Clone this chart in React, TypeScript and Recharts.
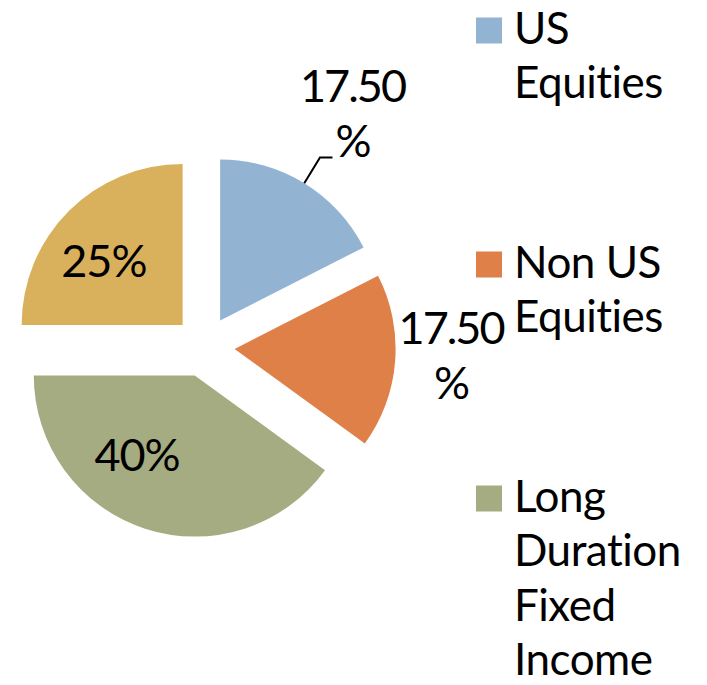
import React from "react";
import { PieChart, Pie, Cell } from "recharts";

// ---- data ----
const categories = ["US Equities", "Non US Equities", "Long Duration Fixed Income", "Other"];
const values = [17.5, 17.5, 40, 25];
const colors = ["#93B3D3", "#DF8049", "#A5AC81", "#D9B15D"];
const legendLabels = [["US", "Equities"], ["Non US", "Equities"], ["Long", "Duration", "Fixed", "Income"]];

const data = categories.map((name, i) => ({ name, value: values[i] }));

// ---- layout ----
const W = 707;
const H = 685;
const CX = 204.2;
const CY = 346.5;
const R = 161;
const EXPLODE = 30.5;
const FONT = "Lato, 'Open Sans', sans-serif";
const FS = 45;
const LS = -1;
const LINE = 55;
const CAP = 33;
const RAD = Math.PI / 180;

// label placement per slice: radius factor, angle tweak (deg, ccw), wrap, leader
const labelLayout = [
  { rf: 1.53, da: -1, wrap: true, leader: true },
  { rf: 1.345, da: 3, wrap: true, leader: false },
  { rf: 0.61, da: -18, wrap: false, leader: false },
  { rf: 0.634, da: 5.5, wrap: false, leader: false },
];

const total = values.reduce((a, b) => a + b, 0);
const midAngles = (() => {
  let cum = 0;
  return values.map((v) => {
    const m = 90 - (360 * (cum + v / 2)) / total;
    cum += v;
    return m;
  });
})();

const polar = (cx: number, cy: number, r: number, a: number) => ({
  x: cx + Math.cos(-a * RAD) * r,
  y: cy + Math.sin(-a * RAD) * r,
});

const fmtPct = (p: number) => {
  const v = p * 100;
  return Math.abs(v - Math.round(v)) < 1e-6 ? `${Math.round(v)}%` : `${v.toFixed(2)}%`;
};

const makeLabel = (target: number) => (props: any) => {
  if (props.index !== target) return null;
  const { cx, cy, midAngle, outerRadius, percent } = props;
  const L = labelLayout[target];
  const p = polar(cx, cy, outerRadius * L.rf, midAngle + L.da);
  const text = fmtPct(percent);
  const lines = L.wrap ? [text.slice(0, -1), "%"] : [text];
  const firstBase = p.y - ((lines.length - 1) * LINE) / 2 + CAP / 2;
  let leader = null;
  if (L.leader) {
    const a = polar(cx, cy, outerRadius, midAngle);
    const e = polar(cx, cy, outerRadius * 1.187, midAngle);
    leader = (
      <polyline
        points={`${a.x},${a.y} ${e.x},${e.y} ${e.x + 12.5},${e.y}`}
        fill="none"
        stroke="#000"
        strokeWidth={2}
      />
    );
  }
  return (
    <g key={`lbl-${target}`}>
      {leader}
      {lines.map((ln, k) => (
        <text
          key={k}
          x={p.x}
          y={firstBase + k * LINE}
          textAnchor="middle"
          fontFamily={FONT}
          fontSize={FS}
          letterSpacing={L.wrap ? -2 : LS}
          fill="#000"
        >
          {ln}
        </text>
      ))}
    </g>
  );
};

const Legend = () => {
  const sq = 26;
  const fs = 44;
  const firstBase = 43.5;
  const itemStep = 234;
  const lineStep = 54.5;
  return (
    <svg width={W} height={H} style={{ position: "absolute", left: 0, top: 0, pointerEvents: "none" }}>
      {legendLabels.map((lines, i) => {
        const base = firstBase + i * itemStep;
        return (
          <g key={i}>
            <rect x={476} y={base - sq} width={sq} height={sq} fill={colors[i]} />
            {lines.map((ln, k) => (
              <text
                key={k}
                x={514}
                y={base + k * lineStep}
                fontFamily={FONT}
                fontSize={fs}
                letterSpacing={-0.5}
                fill="#000"
              >
                {ln}
              </text>
            ))}
          </g>
        );
      })}
    </svg>
  );
};

export default function App() {
  return (
    <div style={{ position: "absolute", left: 0, top: 0, width: W, height: H, background: "#fff" }}>
      <PieChart width={W} height={H} margin={{ top: 0, right: 0, bottom: 0, left: 0 }}>
        {values.map((_, t) => {
          const off = polar(0, 0, EXPLODE, midAngles[t]);
          return (
            <Pie
              key={t}
              data={data}
              dataKey="value"
              nameKey="name"
              cx={CX + off.x}
              cy={CY + off.y}
              outerRadius={R}
              innerRadius={0}
              startAngle={90}
              endAngle={-270}
              isAnimationActive={false}
              labelLine={false}
              label={makeLabel(t)}
            >
              {data.map((_, i) => (
                <Cell key={i} fill={i === t ? colors[i] : "none"} stroke="none" />
              ))}
            </Pie>
          );
        })}
      </PieChart>
      <Legend />
    </div>
  );
}
